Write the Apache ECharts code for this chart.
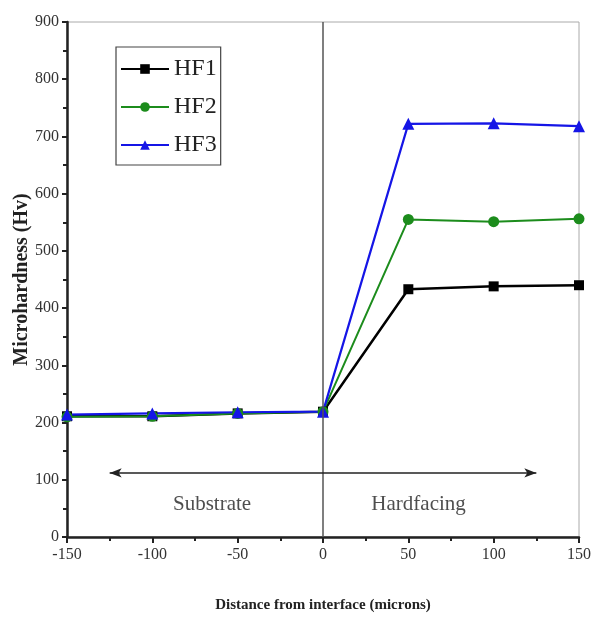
<!DOCTYPE html>
<html><head><meta charset="utf-8">
<script src="https://cdn.jsdelivr.net/npm/echarts@6/dist/echarts.min.js"></script>
<style>html,body{margin:0;padding:0;background:#fff}#c{width:597px;height:619px}</style>
</head><body><div id="c"></div>
<script>
const xValues = [-150, -100, -50, 0, 50, 100, 150];
const hf1 = [211, 211, 216, 219, 433, 438, 440];
const hf2 = [210, 211, 216, 219, 555, 551, 556];
const hf3 = [214, 216, 218, 219, 722, 723, 718];
const seriesNames = ['HF1', 'HF2', 'HF3'];
const regionLabels = [[-65, 56, 'Substrate'], [56, 56, 'Hardfacing']];
const arrowY = 112, arrowX = [-125, 125];

const font = 'Liberation Serif';
const chart = echarts.init(document.getElementById('c'));
function mk(name, vals, color, symbol, size, width) {
  return {
    name, type: 'line', data: xValues.map((x, i) => [x, vals[i]]),
    symbol, symbolSize: size, showSymbol: true,
    lineStyle: { color, width }, itemStyle: { color }, z: 3
  };
}
chart.setOption({
  animation: false,
  grid: { left: 67, right: 18, top: 22, bottom: 82, show: true, borderColor: '#aaa', borderWidth: 1, containLabel: false, outerBoundsMode: 'none' },
  legend: {
    data: seriesNames, orient: 'vertical', left: 116, top: 47,
    itemWidth: 48, itemHeight: 12, itemGap: 14,
    borderColor: '#444', borderWidth: 1.2, padding: [10, 4, 8, 4],
    textStyle: { fontFamily: font, fontSize: 24, color: '#222' }
  },
  xAxis: {
    type: 'value', min: -150, max: 150, interval: 50,
    name: 'Distance from interface (microns)', nameLocation: 'middle', nameGap: 61,
    nameTextStyle: { fontFamily: font, fontWeight: 'bold', fontSize: 15, color: '#222' },
    axisLine: { onZero: false, lineStyle: { color: '#222', width: 2.5 } },
    axisTick: { length: 6, lineStyle: { width: 2 } },
    minorTick: { show: true, splitNumber: 2, length: 4, lineStyle: { color: '#222', width: 2 } },
    axisLabel: { fontFamily: font, fontSize: 16, color: '#333', margin: 10 },
    splitLine: { show: false }
  },
  yAxis: {
    type: 'value', min: 0, max: 900, interval: 100,
    name: 'Microhardness (Hv)', nameLocation: 'middle', nameGap: 35, nameMoveOverlap: false,
    nameTextStyle: { fontFamily: font, fontWeight: 'bold', fontSize: 20, color: '#222' },
    axisLine: { onZero: false, lineStyle: { color: '#222', width: 2.5 } },
    axisTick: { length: 5, lineStyle: { width: 2 } },
    minorTick: { show: true, splitNumber: 2, length: 4, lineStyle: { color: '#222', width: 2 } },
    axisLabel: { fontFamily: font, fontSize: 16, color: '#333', margin: 8 },
    splitLine: { show: false }
  },
  series: [
    mk('HF1', hf1, '#000', 'rect', 10, 2.5),
    mk('HF2', hf2, '#1c8c1c', 'circle', 11, 2),
    mk('HF3', hf3, '#1515e6', 'triangle', 12, 2.2),
    {
      type: 'scatter', data: regionLabels, symbolSize: 0, silent: true,
      label: { show: true, formatter: p => p.data[2], position: 'inside', fontFamily: font, fontSize: 21, color: '#222' },
      markLine: {
        silent: true, symbol: ['none', 'none'], label: { show: false },
        lineStyle: { color: '#555', width: 1.5, type: 'solid' },
        data: [
          [{ coord: [0, 0] }, { coord: [0, 900] }],
          [{ coord: [arrowX[0], arrowY], symbol: 'arrow', symbolSize: [7, 12] }, { coord: [arrowX[1], arrowY], symbol: 'arrow', symbolSize: [7, 12], lineStyle: { color: '#222', width: 1.5 } }]
        ]
      },
      z: 2
    }
  ]
});
</script></body></html>
